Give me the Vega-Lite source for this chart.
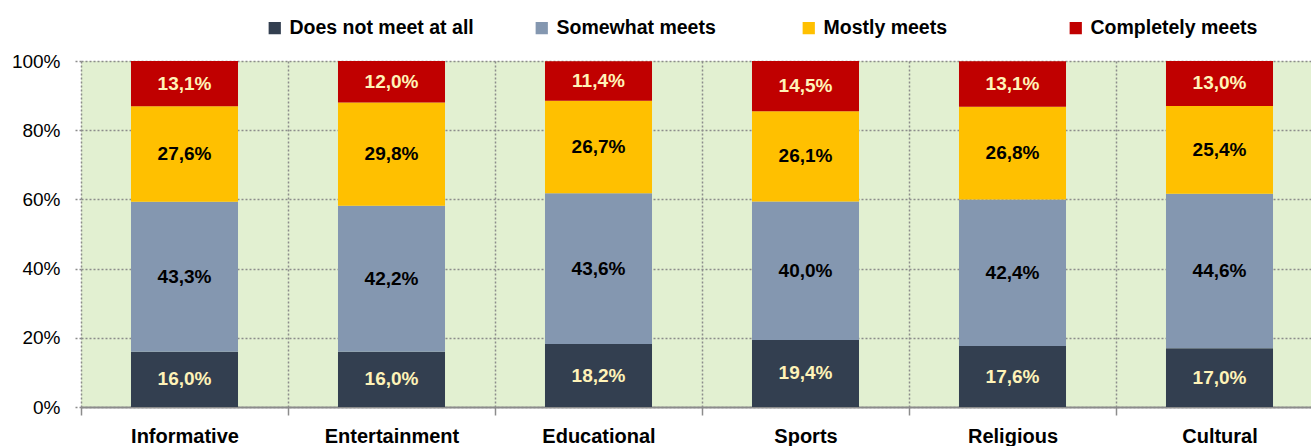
{
  "$schema": "https://vega.github.io/schema/vega-lite/v6.json",
  "autosize": {"type": "none"},
  "padding": {"left": 81, "top": 61, "right": 0, "bottom": 39},
  "width": 1242,
  "height": 346,
  "background": "white",
  "config": {
    "view": {"fill": "#E2F0D1", "stroke": null},
    "font": "Liberation Sans, Arial, sans-serif"
  },
  "data": {
    "values": [
      {"cat": "Informative", "series": "Does not meet at all", "o": 1, "value": 16.0},
      {"cat": "Informative", "series": "Somewhat meets", "o": 2, "value": 43.3},
      {"cat": "Informative", "series": "Mostly meets", "o": 3, "value": 27.6},
      {"cat": "Informative", "series": "Completely meets", "o": 4, "value": 13.1},
      {"cat": "Entertainment", "series": "Does not meet at all", "o": 1, "value": 16.0},
      {"cat": "Entertainment", "series": "Somewhat meets", "o": 2, "value": 42.2},
      {"cat": "Entertainment", "series": "Mostly meets", "o": 3, "value": 29.8},
      {"cat": "Entertainment", "series": "Completely meets", "o": 4, "value": 12.0},
      {"cat": "Educational", "series": "Does not meet at all", "o": 1, "value": 18.2},
      {"cat": "Educational", "series": "Somewhat meets", "o": 2, "value": 43.6},
      {"cat": "Educational", "series": "Mostly meets", "o": 3, "value": 26.7},
      {"cat": "Educational", "series": "Completely meets", "o": 4, "value": 11.4},
      {"cat": "Sports", "series": "Does not meet at all", "o": 1, "value": 19.4},
      {"cat": "Sports", "series": "Somewhat meets", "o": 2, "value": 40.0},
      {"cat": "Sports", "series": "Mostly meets", "o": 3, "value": 26.1},
      {"cat": "Sports", "series": "Completely meets", "o": 4, "value": 14.5},
      {"cat": "Religious", "series": "Does not meet at all", "o": 1, "value": 17.6},
      {"cat": "Religious", "series": "Somewhat meets", "o": 2, "value": 42.4},
      {"cat": "Religious", "series": "Mostly meets", "o": 3, "value": 26.8},
      {"cat": "Religious", "series": "Completely meets", "o": 4, "value": 13.1},
      {"cat": "Cultural", "series": "Does not meet at all", "o": 1, "value": 17.0},
      {"cat": "Cultural", "series": "Somewhat meets", "o": 2, "value": 44.6},
      {"cat": "Cultural", "series": "Mostly meets", "o": 3, "value": 25.4},
      {"cat": "Cultural", "series": "Completely meets", "o": 4, "value": 13.0}
    ]
  },
  "transform": [
    {"stack": "value", "groupby": ["cat"], "sort": [{"field": "o"}], "as": ["v0", "v1"]},
    {"calculate": "(datum.v0 + datum.v1) / 2", "as": "mid"},
    {"calculate": "replace(format(datum.value, '.1f'), '.', ',') + '%'", "as": "label"}
  ],
  "encoding": {
    "x": {
      "field": "cat",
      "type": "nominal",
      "sort": null,
      "scale": {"paddingInner": 0, "paddingOuter": 0},
      "axis": {
        "title": null,
        "labelAngle": 0,
        "labelFontSize": 20,
        "labelFontWeight": "bold",
        "labelColor": "#000000",
        "labelBaseline": "top",
        "labelPadding": 11,
        "bandPosition": 0,
        "grid": true,
        "gridDash": [2, 2],
        "gridColor": "#8c8c8c",
        "gridWidth": 1.5,
        "tickBand": "extent",
        "ticks": true,
        "tickSize": 8,
        "tickColor": "#8c8c8c",
        "tickWidth": 1.5,
        "domainColor": "#8c8c8c",
        "domainWidth": 2
      }
    }
  },
  "layer": [
    {
      "mark": {"type": "bar", "width": {"band": 0.517}},
      "encoding": {
        "y": {
          "field": "v0",
          "type": "quantitative",
          "scale": {"domain": [0, 100]},
          "axis": {
            "title": null,
            "values": [0, 20, 40, 60, 80, 100],
            "labelExpr": "datum.value + '%'",
            "labelFontSize": 19,
            "labelColor": "#000000",
            "labelPadding": 13,
            "domain": false,
            "grid": true,
            "gridDash": [2, 2],
            "gridColor": "#8c8c8c",
            "gridWidth": 1.5,
            "tickSize": 8,
            "tickDash": [2, 2],
            "tickColor": "#8c8c8c",
            "tickWidth": 1.5
          }
        },
        "y2": {"field": "v1"},
        "color": {
          "field": "series",
          "type": "nominal",
          "sort": ["Does not meet at all", "Somewhat meets", "Mostly meets", "Completely meets"],
          "scale": {
            "domain": ["Does not meet at all", "Somewhat meets", "Mostly meets", "Completely meets"],
            "range": ["#333F50", "#8497B0", "#FFC000", "#C00000"]
          },
          "legend": {
            "title": null,
            "orient": "none",
            "legendX": 184,
            "legendY": -43,
            "direction": "horizontal",
            "columns": 4,
            "gridAlign": "all",
            "columnPadding": 58,
            "symbolType": "square",
            "symbolSize": 150,
            "symbolStrokeWidth": 0,
            "symbolOpacity": 1,
            "labelFontSize": 19.5,
            "labelFontWeight": "bold",
            "labelColor": "#000000",
            "labelOffset": 5,
            "labelLimit": 400
          }
        }
      }
    },
    {
      "mark": {"type": "text", "fontSize": 19, "fontWeight": "bold", "baseline": "middle", "align": "center"},
      "encoding": {
        "y": {"field": "mid", "type": "quantitative"},
        "text": {"field": "label"},
        "color": {
          "condition": {"test": "datum.o == 1 || datum.o == 4", "value": "#FFF3B8"},
          "value": "#000000"
        }
      }
    }
  ]
}
